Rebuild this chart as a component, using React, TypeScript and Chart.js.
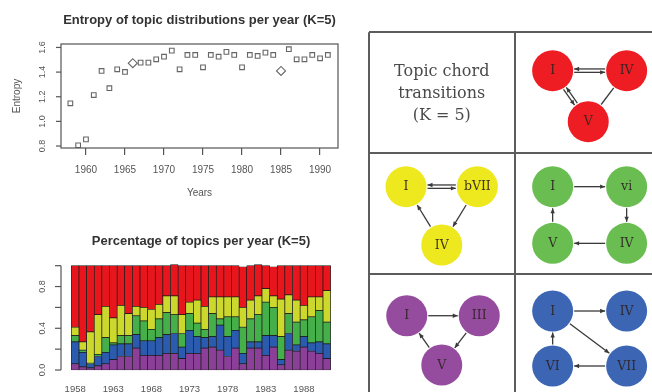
import React, { useEffect, useRef } from "react";
import { Chart, registerables } from "chart.js";

Chart.register(...registerables);

// ---------- Entropy scatter ----------
const years = [1958, 1959, 1960, 1961, 1962, 1963, 1964, 1965, 1966, 1967, 1968, 1969, 1970, 1971, 1972, 1973, 1974, 1975, 1976, 1977, 1978, 1979, 1980, 1981, 1982, 1983, 1984, 1985, 1986, 1987, 1988, 1989, 1990, 1991];
const entropy = [1.147, 0.806, 0.854, 1.214, 1.409, 1.269, 1.423, 1.401, 1.472, 1.477, 1.477, 1.504, 1.525, 1.574, 1.423, 1.539, 1.539, 1.439, 1.539, 1.525, 1.564, 1.539, 1.439, 1.539, 1.531, 1.558, 1.539, 1.409, 1.586, 1.504, 1.504, 1.539, 1.512, 1.539];
const entropyXTicks = [1960, 1965, 1970, 1975, 1980, 1985, 1990];
const entropyYTicks = [0.8, 1.0, 1.2, 1.4, 1.6];
const entropyYLabels = ["0.8", "1.0", "1.2", "1.4", "1.6"];
const diamondYears = [1966, 1985];

// ---------- Topic percentages (stacked) ----------
const topicPurple = [0.06, 0.03, 0.02, 0.04, 0.06, 0.10, 0.13, 0.13, 0.21, 0.14, 0.14, 0.14, 0.16, 0.16, 0.11, 0.16, 0.16, 0.21, 0.22, 0.19, 0.13, 0.21, 0.06, 0.21, 0.21, 0.14, 0.22, 0.05, 0.19, 0.18, 0.22, 0.18, 0.16, 0.11];
const topicBlue = [0.21, 0.14, 0.04, 0.09, 0.11, 0.14, 0.12, 0.12, 0.13, 0.14, 0.14, 0.17, 0.18, 0.19, 0.11, 0.22, 0.16, 0.10, 0.10, 0.24, 0.19, 0.17, 0.10, 0.06, 0.06, 0.19, 0.11, 0.05, 0.16, 0.06, 0.10, 0.08, 0.11, 0.14];
const topicGreen = [0.06, 0.02, 0.005, 0.02, 0.14, 0.02, 0.08, 0.08, 0.18, 0.19, 0.11, 0.18, 0.21, 0.18, 0.13, 0.16, 0.13, 0.08, 0.22, 0.06, 0.19, 0.13, 0.25, 0.22, 0.26, 0.32, 0.27, 0.22, 0.19, 0.22, 0.16, 0.25, 0.30, 0.21];
const topicYellow = [0.08, 0.08, 0.30, 0.38, 0.30, 0.24, 0.29, 0.21, 0.09, 0.13, 0.19, 0.14, 0.16, 0.18, 0.18, 0.11, 0.22, 0.22, 0.16, 0.21, 0.19, 0.19, 0.19, 0.18, 0.18, 0.13, 0.11, 0.36, 0.18, 0.21, 0.14, 0.19, 0.13, 0.30];
const topicRed = [0.59, 0.73, 0.635, 0.47, 0.39, 0.50, 0.38, 0.46, 0.39, 0.40, 0.42, 0.37, 0.29, 0.30, 0.47, 0.35, 0.33, 0.39, 0.30, 0.30, 0.30, 0.30, 0.39, 0.33, 0.30, 0.22, 0.28, 0.32, 0.28, 0.33, 0.38, 0.30, 0.30, 0.24];
const topicXTicks = [1958, 1963, 1968, 1973, 1978, 1983, 1988];
const topicYTicks = [0, 0.2, 0.4, 0.6, 0.8, 1.0];
const topicYLabels = ["0.0", "", "0.4", "", "0.8", ""];

// ---------- Chord transition graphs (table cells: col 0..2, row 0..3) ----------
const tableCols = [0, 1, 2];
const tableRows = [0, 1, 2, 3];

const redLabels = ["I", "IV", "V"];
const redX = [1.257, 1.762, 1.5];
const redY = [0.318, 0.318, 0.741];
const redEdges = [[0, 1, 2], [0, 2, 2], [2, 1, 0]];

const yellowLabels = ["I", "bVII", "IV"];
const yellowX = [0.256, 0.743, 0.5];
const yellowY = [1.28, 1.28, 1.764];
const yellowEdges = [[0, 1, 2], [2, 0, 1], [1, 2, 1]];

const greenLabels = ["I", "vi", "V", "IV"];
const greenX = [1.257, 1.762, 1.257, 1.762];
const greenY = [1.28, 1.28, 1.75, 1.75];
const greenEdges = [[0, 1, 1], [1, 3, 1], [3, 2, 1], [2, 0, 1]];

const purpleLabels = ["I", "III", "V"];
const purpleX = [0.261, 0.756, 0.5];
const purpleY = [2.35, 2.35, 2.759];
const purpleEdges = [[0, 1, 1], [2, 0, 1], [1, 2, 1]];

const blueLabels = ["I", "IV", "VI", "VII"];
const blueX = [1.257, 1.762, 1.257, 1.762];
const blueY = [2.311, 2.311, 2.767, 2.767];
const blueEdges = [[0, 1, 1], [2, 0, 1], [3, 2, 1], [0, 3, 1]];

const SANS = "'Liberation Sans', Arial, sans-serif";
const SERIF = "'DejaVu Serif', serif";
const AXIS = "#555";

function rAxisPlugin(ticks: number[], labels: string[], labelX: number, tickLen: number, fontSize: number, drawLine: boolean, drawBox: boolean) {
  return {
    id: "rAxis",
    afterDraw(chart: any) {
      const { ctx, chartArea, scales } = chart;
      const ys = scales.y;
      ctx.save();
      ctx.strokeStyle = AXIS;
      ctx.lineWidth = 1.2;
      if (drawBox) {
        ctx.strokeRect(chartArea.left, chartArea.top, chartArea.right - chartArea.left, chartArea.bottom - chartArea.top);
      }
      const x0 = chartArea.left;
      if (drawLine) {
        ctx.beginPath();
        ctx.moveTo(x0, ys.getPixelForValue(ticks[0]));
        ctx.lineTo(x0, ys.getPixelForValue(ticks[ticks.length - 1]));
        ctx.stroke();
      }
      ctx.fillStyle = AXIS;
      ctx.font = `${fontSize}px ${SANS}`;
      ctx.textAlign = "center";
      ctx.textBaseline = "middle";
      ticks.forEach((v, i) => {
        const y = ys.getPixelForValue(v);
        ctx.beginPath();
        ctx.moveTo(x0, y);
        ctx.lineTo(x0 - tickLen, y);
        ctx.stroke();
        const lab = labels[i];
        if (lab) {
          ctx.save();
          ctx.translate(labelX, y);
          ctx.rotate(-Math.PI / 2);
          ctx.fillText(lab, 0, 0);
          ctx.restore();
        }
      });
      ctx.restore();
    },
  };
}

function makeEntropy(canvas: HTMLCanvasElement) {
  return new Chart(canvas, {
    type: "scatter",
    data: {
      datasets: [
        {
          data: years.map((y, i) => ({ x: y, y: entropy[i] })),
          pointStyle: (c: any) => (diamondYears.includes(years[c.dataIndex]) ? "rectRot" : "rect"),
          pointRadius: (c: any) => (diamondYears.includes(years[c.dataIndex]) ? 4.5 : 3.3),
          borderColor: "#666",
          backgroundColor: "rgba(255,255,255,0)",
          borderWidth: 1.1,
        } as any,
      ],
    },
    options: {
      responsive: false,
      animation: false,
      events: [],
      layout: { autoPadding: false, padding: { left: 0, right: 12, top: 0, bottom: 0 } },
      plugins: {
        legend: { display: false },
        tooltip: { enabled: false },
        title: {
          display: true,
          fullSize: false,
          text: "Entropy of topic distributions per year (K=5)",
          color: "#333",
          font: { family: SANS, size: 13, weight: "bold" },
          padding: { top: 12.9, bottom: 15.5 },
        },
      },
      scales: {
        x: {
          type: "linear",
          min: 1956.8,
          max: 1992.3,
          afterBuildTicks: (ax: any) => {
            ax.ticks = entropyXTicks.map((v) => ({ value: v }));
          },
          grid: { display: true, drawOnChartArea: false, drawTicks: true, tickLength: 7, color: AXIS, lineWidth: 1.2 },
          border: { display: false },
          ticks: { color: AXIS, font: { family: SANS, size: 10 }, padding: 9, maxRotation: 0, autoSkip: false, callback: (v: any) => String(v) },
          title: { display: true, text: "Years", color: AXIS, font: { family: SANS, size: 10 }, padding: { top: 0, bottom: 1 } },
          afterFit: (s: any) => {
            s.height = 52;
          },
        },
        y: {
          type: "linear",
          min: 0.784,
          max: 1.628,
          afterBuildTicks: (ax: any) => {
            ax.ticks = entropyYTicks.map((v) => ({ value: v }));
          },
          grid: { display: false },
          border: { display: false },
          ticks: { display: false },
          title: { display: true, text: "Entropy", color: AXIS, font: { family: SANS, size: 10 }, padding: { top: 11, bottom: 0 } },
          afterFit: (s: any) => {
            s.width = 61;
          },
        },
      },
    } as any,
    plugins: [rAxisPlugin(entropyYTicks, entropyYLabels, 43, 5, 9, false, true)],
  });
}

function makeTopics(canvas: HTMLCanvasElement) {
  const series = [
    { vals: topicPurple, color: "#8B3F99" },
    { vals: topicBlue, color: "#2B5BAE" },
    { vals: topicGreen, color: "#45B04A" },
    { vals: topicYellow, color: "#CDD82C" },
    { vals: topicRed, color: "#E8161C" },
  ];
  return new Chart(canvas, {
    type: "bar",
    data: {
      datasets: series.map((s) => ({
        data: years.map((y, i) => ({ x: y, y: s.vals[i] })),
        backgroundColor: s.color,
        borderColor: "#1a1a1a",
        borderWidth: 0.7,
        borderSkipped: false,
        barPercentage: 1,
        categoryPercentage: 1,
      })),
    } as any,
    options: {
      responsive: false,
      animation: false,
      events: [],
      layout: { autoPadding: false, padding: { left: 0, right: 9, top: 0, bottom: 0 } },
      plugins: {
        legend: { display: false },
        tooltip: { enabled: false },
        title: {
          display: true,
          fullSize: false,
          text: "Percentage of topics per year (K=5)",
          color: "#333",
          font: { family: SANS, size: 13, weight: "bold" },
          padding: { top: 33.9, bottom: 12 },
        },
      },
      scales: {
        x: {
          type: "linear",
          stacked: true,
          offset: false,
          min: 1956.14,
          max: 1992.86,
          afterBuildTicks: (ax: any) => {
            ax.ticks = topicXTicks.map((v) => ({ value: v }));
          },
          grid: { display: false, drawTicks: false },
          border: { display: false },
          ticks: { color: AXIS, font: { family: SANS, size: 9.5 }, padding: 9.5, maxRotation: 0, autoSkip: false, callback: (v: any) => String(v) },
          afterFit: (s: any) => {
            s.height = 17.8;
          },
        },
        y: {
          type: "linear",
          stacked: true,
          min: -0.04,
          max: 1.04,
          afterBuildTicks: (ax: any) => {
            ax.ticks = topicYTicks.map((v) => ({ value: v }));
          },
          grid: { display: false },
          border: { display: false },
          ticks: { display: false },
          afterFit: (s: any) => {
            s.width = 61;
          },
        },
      },
    } as any,
    plugins: [rAxisPlugin(topicYTicks, topicYLabels, 43, 6, 9, true, false)],
  });
}

const graphs = [
  { labels: redLabels, xs: redX, ys: redY, edges: redEdges, color: "#EE1D23" },
  { labels: yellowLabels, xs: yellowX, ys: yellowY, edges: yellowEdges, color: "#EEE81E" },
  { labels: greenLabels, xs: greenX, ys: greenY, edges: greenEdges, color: "#6ABD50" },
  { labels: purpleLabels, xs: purpleX, ys: purpleY, edges: purpleEdges, color: "#964C9E" },
  { labels: blueLabels, xs: blueX, ys: blueY, edges: blueEdges, color: "#3C66B4" },
];

const NODE_R = 20.5;

function arrowHead(ctx: CanvasRenderingContext2D, x: number, y: number, ux: number, uy: number) {
  const L = 5;
  const W = 2.2;
  ctx.beginPath();
  ctx.moveTo(x, y);
  ctx.lineTo(x - L * ux - W * uy, y - L * uy + W * ux);
  ctx.lineTo(x - L * ux + W * uy, y - L * uy - W * ux);
  ctx.closePath();
  ctx.fill();
}

const edgePlugin = {
  id: "edges",
  beforeDatasetsDraw(chart: any) {
    const { ctx, scales } = chart;
    ctx.save();
    ctx.strokeStyle = "#3a3a3a";
    ctx.fillStyle = "#3a3a3a";
    ctx.lineWidth = 1.3;
    graphs.forEach((g) => {
      g.edges.forEach(([a, b, kind]) => {
        const x1 = scales.x.getPixelForValue(g.xs[a]);
        const y1 = scales.y.getPixelForValue(g.ys[a]);
        const x2 = scales.x.getPixelForValue(g.xs[b]);
        const y2 = scales.y.getPixelForValue(g.ys[b]);
        const len = Math.hypot(x2 - x1, y2 - y1);
        const ux = (x2 - x1) / len;
        const uy = (y2 - y1) / len;
        const nx = -uy;
        const ny = ux;
        const trim = NODE_R + 1;
        const offs = kind === 2 ? [1.7, -1.7] : [0];
        offs.forEach((o, k) => {
          const sx = x1 + ux * trim + nx * o;
          const sy = y1 + uy * trim + ny * o;
          const ex = x2 - ux * trim + nx * o;
          const ey = y2 - uy * trim + ny * o;
          ctx.beginPath();
          ctx.moveTo(sx, sy);
          ctx.lineTo(ex, ey);
          ctx.stroke();
          if (kind === 1) arrowHead(ctx, ex, ey, ux, uy);
          if (kind === 2) {
            if (k === 0) arrowHead(ctx, ex, ey, ux, uy);
            else arrowHead(ctx, sx, sy, -ux, -uy);
          }
        });
      });
    });
    ctx.restore();
  },
  afterDatasetsDraw(chart: any) {
    const { ctx } = chart;
    ctx.save();
    ctx.fillStyle = "rgba(45,35,35,0.9)";
    ctx.font = `12.5px ${SERIF}`;
    ctx.textAlign = "center";
    ctx.textBaseline = "middle";
    graphs.forEach((g, di) => {
      const meta = chart.getDatasetMeta(di);
      meta.data.forEach((el: any, i: number) => {
        ctx.fillText(g.labels[i], el.x, el.y + 0.5);
      });
    });
    ctx.restore();
  },
};

function makeGraphs(canvas: HTMLCanvasElement) {
  return new Chart(canvas, {
    type: "scatter",
    data: {
      datasets: graphs.map((g) => ({
        data: g.xs.map((x, i) => ({ x, y: g.ys[i] })),
        backgroundColor: g.color,
        borderWidth: 0,
        pointRadius: NODE_R,
        pointHoverRadius: NODE_R,
      })),
    },
    options: {
      responsive: false,
      animation: false,
      events: [],
      layout: { autoPadding: false, padding: { left: 8.5, top: 8.3, right: 0.5, bottom: 1.9 } },
      plugins: { legend: { display: false }, tooltip: { enabled: false } },
      scales: {
        x: {
          type: "linear",
          min: tableCols[0],
          max: tableCols[tableCols.length - 1],
          afterBuildTicks: (ax: any) => {
            ax.ticks = tableCols.map((v) => ({ value: v }));
          },
          ticks: { display: false },
          grid: { color: "#5c5c5c", lineWidth: 2, drawTicks: false },
          border: { display: false },
          afterFit: (s: any) => {
            s.height = 0;
          },
        },
        y: {
          type: "linear",
          reverse: true,
          min: tableRows[0],
          max: tableRows[tableRows.length - 1],
          afterBuildTicks: (ax: any) => {
            ax.ticks = tableRows.map((v) => ({ value: v }));
          },
          ticks: { display: false },
          grid: { color: "#5c5c5c", lineWidth: 2, drawTicks: false },
          border: { display: false },
          afterFit: (s: any) => {
            s.width = 0;
          },
        },
      },
    } as any,
    plugins: [edgePlugin],
  });
}

export default function App() {
  const r1 = useRef<HTMLCanvasElement>(null);
  const r2 = useRef<HTMLCanvasElement>(null);
  const r3 = useRef<HTMLCanvasElement>(null);

  useEffect(() => {
    const charts = [makeEntropy(r1.current!), makeTopics(r2.current!), makeGraphs(r3.current!)];
    return () => charts.forEach((c) => c.destroy());
  }, []);

  return (
    <div style={{ position: "absolute", left: 0, top: 0, width: 652, height: 392, overflow: "hidden", background: "#fff" }}>
      <canvas ref={r1} width={350} height={200} style={{ position: "absolute", left: 0, top: 0, width: 350, height: 200 }} />
      <canvas ref={r2} width={350} height={192} style={{ position: "absolute", left: 0, top: 200, width: 350, height: 192 }} />
      <canvas ref={r3} width={302} height={372} style={{ position: "absolute", left: 360, top: 24, width: 302, height: 372 }} />
      <div
        style={{
          position: "absolute",
          left: 368.5,
          top: 32.3,
          width: 146.5,
          height: 121,
          display: "flex",
          alignItems: "center",
          justifyContent: "center",
          textAlign: "center",
          fontFamily: SERIF,
          fontSize: 16,
          lineHeight: "21.7px",
          color: "#4a4a4a",
        }}
      >
        <div>
          Topic chord
          <br />
          transitions
          <br />
          (K = 5)
        </div>
      </div>
    </div>
  );
}
